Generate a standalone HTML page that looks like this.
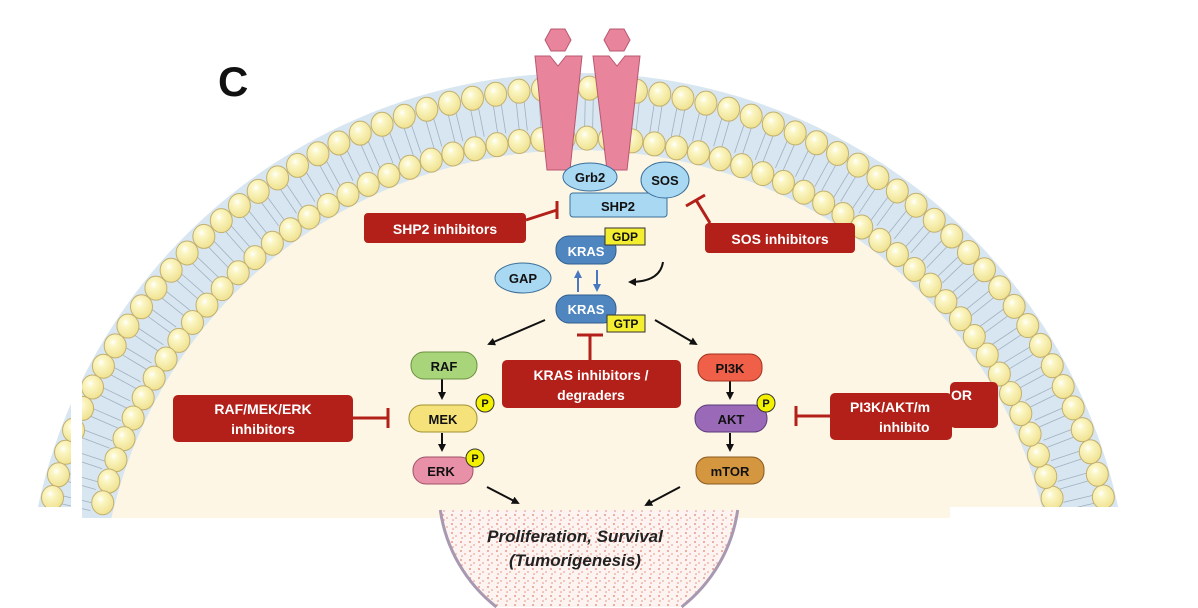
<!DOCTYPE html>
<html><head><meta charset="utf-8"><style>
html,body{margin:0;padding:0;background:#fff;width:1198px;height:608px;overflow:hidden}
svg{display:block}
text{font-family:"Liberation Sans",sans-serif;font-weight:bold}
</style></head><body>
<svg id="s" width="1198" height="608" viewBox="0 0 1198 608" xmlns="http://www.w3.org/2000/svg">
<defs>
<radialGradient id="bead" cx="0.4" cy="0.35" r="0.7">
<stop offset="0" stop-color="#ffffff"/><stop offset="0.25" stop-color="#fbf6c4"/><stop offset="1" stop-color="#efe08c"/>
</radialGradient>
<pattern id="speck" width="9" height="9" patternUnits="userSpaceOnUse">
<rect width="9" height="9" fill="#fdf3f0"/>
<circle cx="2" cy="2" r="1" fill="#e89a88"/><circle cx="6" cy="5" r="0.9" fill="#eaa898"/><circle cx="3" cy="7" r="0.8" fill="#e49080"/>
</pattern>
<clipPath id="top"><rect x="0" y="0" width="1198" height="518"/></clipPath>
<marker id="ar" markerWidth="8" markerHeight="8" refX="6" refY="4" orient="auto" markerUnits="userSpaceOnUse"><path d="M0,0 L8,4 L0,8 Z" fill="#111"/></marker>
<marker id="ab" markerWidth="8" markerHeight="8" refX="6" refY="4" orient="auto" markerUnits="userSpaceOnUse"><path d="M0,0 L8,4 L0,8 Z" fill="#4a78c0"/></marker>
</defs>
<g clip-path="url(#top)">
<path d="M26,620 A552,547 0 0 1 1130,620 Z" fill="#d8e6f1"/>
<path d="M100,620 A478,470 0 0 1 1056,620 Z" fill="#fdf6e4"/>
<g id="tails" stroke="#8a9aaa" stroke-width="0.8" opacity="0.7"></g>
<g id="beads"></g>
</g>
<g fill="#e8849c" stroke="#b85870" stroke-width="1">
<path d="M535,56 L550,56 L558,66 L566,56 L582,56 L570,170 L547,170 Z"/>
<path d="M593,56 L609,56 L617,66 L625,56 L640,56 L627,170 L607,170 Z"/>
<polygon points="545,40 551,29 565,29 571,40 565,51 551,51"/>
<polygon points="604,40 610,29 624,29 630,40 624,51 610,51"/>
</g>
<rect x="950" y="507" width="248" height="11" fill="#fff"/>
<rect x="0" y="507" width="71" height="11" fill="#fff"/>
<rect x="71" y="353" width="11" height="165" fill="#fff"/>
<path d="M440.3,510 A150,150 0 0 0 496.4,607 L681.6,607 A150,150 0 0 0 737.7,510 Z" fill="url(#speck)"/>
<path d="M440.3,510 A150,150 0 0 0 496.4,607 M681.6,607 A150,150 0 0 0 737.7,510" fill="none" stroke="#a898b0" stroke-width="3"/>
<text x="575" y="542" font-size="17" font-style="italic" text-anchor="middle" fill="#222">Proliferation, Survival</text>
<text x="575" y="566" font-size="17" font-style="italic" text-anchor="middle" fill="#222">(Tumorigenesis)</text>
<text x="218" y="96" font-size="42" fill="#111">C</text>
<rect x="570" y="193" width="97" height="24" rx="3" fill="#a9d8f2" stroke="#3a6f9a"/>
<text x="618" y="211" font-size="13" text-anchor="middle" fill="#111">SHP2</text>
<ellipse cx="590" cy="177" rx="27" ry="14" fill="#a9d8f2" stroke="#3a6f9a"/>
<text x="590" y="182" font-size="13" text-anchor="middle" fill="#111">Grb2</text>
<ellipse cx="665" cy="180" rx="24" ry="18" fill="#a9d8f2" stroke="#3a6f9a"/>
<text x="665" y="185" font-size="13" text-anchor="middle" fill="#111">SOS</text>
<g fill="#b22019">
<rect x="364" y="213" width="162" height="30" rx="4"/>
<rect x="705" y="223" width="150" height="30" rx="4"/>
<rect x="502" y="360" width="179" height="48" rx="5"/>
<rect x="173" y="395" width="180" height="47" rx="5"/>
<rect x="830" y="393" width="122" height="47" rx="5"/>
<rect x="950" y="382" width="48" height="46" rx="5"/>
</g>
<g stroke="#b22019" stroke-width="3" fill="none">
<path d="M526,220 L557,210 M557,201 L557,219"/>
<path d="M710,223 L696,200 M686,206 L705,195"/>
<path d="M590,360 L590,336 M577,335 L603,335"/>
<path d="M353,418 L388,418 M388,408 L388,428"/>
<path d="M830,416 L796,416 M796,406 L796,426"/>
</g>
<g fill="#fff" font-size="14">
<text x="445" y="234" text-anchor="middle">SHP2 inhibitors</text>
<text x="780" y="244" text-anchor="middle">SOS inhibitors</text>
<text x="591" y="380" text-anchor="middle">KRAS inhibitors /</text>
<text x="591" y="400" text-anchor="middle">degraders</text>
<text x="263" y="414" text-anchor="middle">RAF/MEK/ERK</text>
<text x="263" y="434" text-anchor="middle">inhibitors</text>
<text x="850" y="412">PI3K/AKT/m</text>
<text x="879" y="432">inhibito</text>
<text x="951" y="400">OR</text>
</g>
<rect x="556" y="236" width="60" height="28" rx="13" fill="#4f86c0" stroke="#2f5f90"/>
<text x="586" y="256" font-size="13" text-anchor="middle" fill="#fff">KRAS</text>
<rect x="605" y="228" width="40" height="17" fill="#f4ee30" stroke="#333"/>
<text x="625" y="241" font-size="12" text-anchor="middle" fill="#111">GDP</text>
<ellipse cx="523" cy="278" rx="28" ry="15" fill="#a9d8f2" stroke="#3a6f9a"/>
<text x="523" y="283" font-size="13" text-anchor="middle" fill="#111">GAP</text>
<rect x="556" y="295" width="60" height="28" rx="13" fill="#4f86c0" stroke="#2f5f90"/>
<text x="586" y="314" font-size="13" text-anchor="middle" fill="#fff">KRAS</text>
<rect x="607" y="315" width="38" height="17" fill="#f4ee30" stroke="#333"/>
<text x="626" y="328" font-size="12" text-anchor="middle" fill="#111">GTP</text>
<g stroke-width="2" fill="none">
<path d="M578,292 L578,272" stroke="#4a78c0" marker-end="url(#ab)"/>
<path d="M597,270 L597,290" stroke="#4a78c0" marker-end="url(#ab)"/>
<path d="M663,262 Q660,282 630,282" stroke="#111" marker-end="url(#ar)"/>
<path d="M545,320 L489,344" stroke="#111" marker-end="url(#ar)"/>
<path d="M655,320 L696,344" stroke="#111" marker-end="url(#ar)"/>
<path d="M442,379 L442,398" stroke="#111" marker-end="url(#ar)"/>
<path d="M442,433 L442,450" stroke="#111" marker-end="url(#ar)"/>
<path d="M730,381 L730,398" stroke="#111" marker-end="url(#ar)"/>
<path d="M730,433 L730,450" stroke="#111" marker-end="url(#ar)"/>
<path d="M487,487 L518,503" stroke="#111" marker-end="url(#ar)"/>
<path d="M680,487 L646,505" stroke="#111" marker-end="url(#ar)"/>
</g>
<rect x="411" y="352" width="66" height="27" rx="13" fill="#a8d47a" stroke="#6a9040"/>
<text x="444" y="371" font-size="13" text-anchor="middle" fill="#111">RAF</text>
<rect x="409" y="405" width="68" height="27" rx="13" fill="#f5e27a" stroke="#a09030"/>
<text x="443" y="424" font-size="13" text-anchor="middle" fill="#111">MEK</text>
<rect x="413" y="457" width="60" height="27" rx="13" fill="#e890a8" stroke="#a05068"/>
<text x="441" y="476" font-size="13" text-anchor="middle" fill="#111">ERK</text>
<rect x="698" y="354" width="64" height="27" rx="12" fill="#f06048" stroke="#a03020"/>
<text x="730" y="373" font-size="13" text-anchor="middle" fill="#111">PI3K</text>
<rect x="695" y="405" width="72" height="27" rx="13" fill="#9a6ab8" stroke="#5a3a78"/>
<text x="731" y="424" font-size="13" text-anchor="middle" fill="#111">AKT</text>
<rect x="696" y="457" width="68" height="27" rx="12" fill="#d4963f" stroke="#8a5a20"/>
<text x="730" y="476" font-size="13" text-anchor="middle" fill="#111">mTOR</text>
<g fill="#f3f000" stroke="#333">
<circle cx="485" cy="403" r="9"/><circle cx="475" cy="458" r="9"/><circle cx="766" cy="403" r="9"/>
</g>
<g font-size="11" text-anchor="middle" fill="#111">
<text x="485" y="407">P</text><text x="475" y="462">P</text><text x="766" y="407">P</text>
</g>
</svg>
<script>
(function(){
var ns="http://www.w3.org/2000/svg",b=document.getElementById('beads'),t=document.getElementById('tails');
function pts(rx,ry,step){var a=[],th=0.02,cx=578,cy=620,last=null;for(var i=0;i<=20000;i++){var q=th+i*(Math.PI-0.04)/20000;var x=cx+rx*Math.cos(q),y=cy-ry*Math.sin(q);if(y>520)continue;if(!last||Math.hypot(x-last[0],y-last[1])>=step){a.push([x,y,q]);last=[x,y];}}return a;}
var outer=pts(540,532,23.5),inner=pts(490,482,22.5);
outer.forEach(function(p){var q=p[2];for(var k=-1;k<=1;k+=2){var l=document.createElementNS(ns,'line');var o=k*4;var nx=Math.cos(q),ny=-Math.sin(q);var tx=-ny,ty=nx;l.setAttribute('x1',p[0]-nx*10+tx*o);l.setAttribute('y1',p[1]-ny*10+ty*o);l.setAttribute('x2',p[0]-nx*40+tx*o);l.setAttribute('y2',p[1]-ny*40+ty*o);t.appendChild(l);}});
outer.concat(inner).forEach(function(p){var e=document.createElementNS(ns,'ellipse');e.setAttribute('cx',p[0]);e.setAttribute('cy',p[1]);e.setAttribute('rx',11);e.setAttribute('ry',12);e.setAttribute('fill','url(#bead)');e.setAttribute('stroke','#c2b070');e.setAttribute('stroke-width','1');b.appendChild(e);});
})();
</script>
</body></html>
